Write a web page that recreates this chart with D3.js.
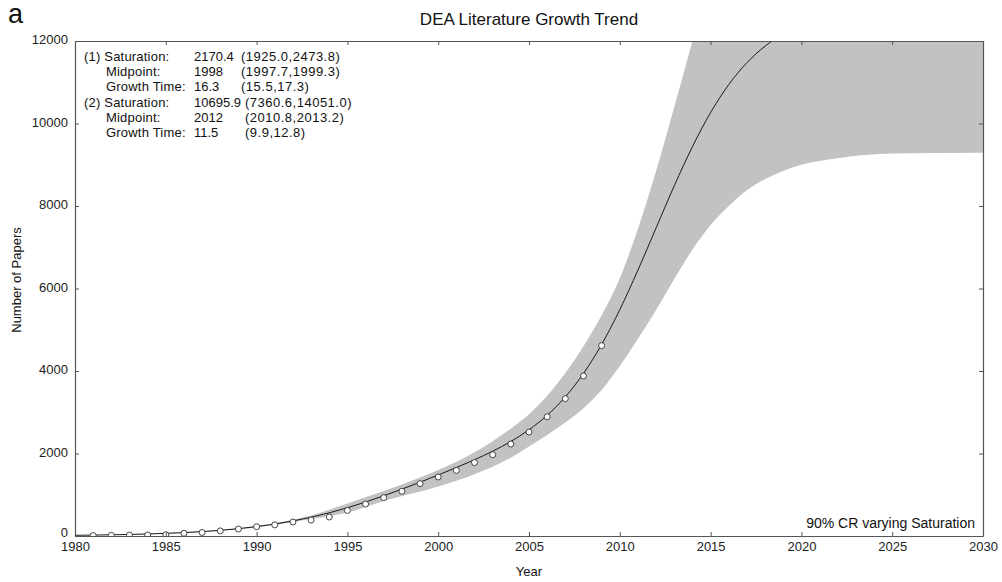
<!DOCTYPE html>
<html>
<head>
<meta charset="utf-8">
<script src="https://cdn.jsdelivr.net/npm/d3@7"></script>
<style>
  html, body { margin: 0; padding: 0; background: #fff; }
  svg { display: block; font-family: "Liberation Sans", Arial, sans-serif; }
</style>
</head>
<body>
<svg id="chart" width="1002" height="582"></svg>
<script>
// Observed yearly paper counts
const obsYears = [1981,1982,1983,1984,1985,1986,1987,1988,1989,1990,1991,1992,1993,1994,1995,
                  1996,1997,1998,1999,2000,2001,2002,2003,2004,2005,2006,2007,2008,2009];
const obsCounts = [10,15,22,25,30,65,85,125,170,225,270,340,385,460,620,
                   775,930,1085,1270,1430,1590,1780,1970,2230,2520,2890,3330,3880,4615];

// Bi-logistic fitted curve, sampled yearly
const fitYears = [1980,1981,1982,1983,1984,1985,1986,1987,1988,1989,1990,1991,1992,1993,1994,
                  1995,1996,1997,1998,1999,2000,2001,2002,2003,2004,2005,2006,2007,2008,2009,
                  2010,2011,2012,2013,2014,2015,2016,2017,2018,2019];
const fitCounts = [17,22,29,38,49,64,83,107,138,178,228,289,364,455,562,
                   685,823,975,1136,1304,1479,1659,1849,2056,2292,2575,2927,3373,3940,4643,
                   5487,6446,7470,8491,9439,10265,10943,11474,11875,12169];

// 90% credible region (varying saturation): upper and lower envelopes
const bandUpperYears = [1980,1985,1990,1993,1995,1997,2000,2002,2003,2004,2005,2006,2007,2008,2009,2010,2011,2012,2013,2014,2015,2030];
const bandUpper      = [17,70,245,500,790,1090,1600,2030,2300,2600,2950,3400,3950,4600,5350,6250,7450,8850,10400,12000,13600,13600];
const bandLowerYears = [1980,1985,1990,1993,1995,1997,2000,2002,2003,2004,2005,2006,2007,2008,2009,2010,2011,2012,2013,2014,2015,2016,2017,2018,2019,2020,2022,2025,2030];
const bandLower      = [16,58,210,410,570,850,1200,1500,1680,1900,2170,2450,2750,3100,3540,4120,4780,5480,6230,6940,7540,8000,8380,8650,8850,9000,9160,9270,9290];

const xTicks = [1980,1985,1990,1995,2000,2005,2010,2015,2020,2025,2030];
const yTicks = [0,2000,4000,6000,8000,10000,12000];

const paramRows = [
  ["(1) Saturation:", "2170.4", "(1925.0,2473.8)"],
  ["Midpoint:", "1998", "(1997.7,1999.3)"],
  ["Growth Time:", "16.3", "(15.5,17.3)"],
  ["(2) Saturation:", "10695.9", "(7360.6,14051.0)"],
  ["Midpoint:", "2012", "(2010.8,2013.2)"],
  ["Growth Time:", "11.5", "(9.9,12.8)"]
];

const svg = d3.select("#chart");
const margin = {left: 75, right: 19, top: 41, bottom: 46};
const W = 1002, H = 582;
const x = d3.scaleLinear().domain([1980, 2030]).range([margin.left, W - margin.right]);
const y = d3.scaleLinear().domain([0, 12000]).range([H - margin.bottom, margin.top]);

svg.append("defs").append("clipPath").attr("id", "plotClip")
  .append("rect")
  .attr("x", x(1980)).attr("y", y(12000))
  .attr("width", x(2030) - x(1980)).attr("height", y(0) - y(12000));

const plot = svg.append("g").attr("clip-path", "url(#plotClip)");

// Credible region polygon
const upperPts = bandUpperYears.map((yr, i) => [x(yr), y(bandUpper[i])]);
const lowerPts = bandLowerYears.map((yr, i) => [x(yr), y(bandLower[i])]);
const smooth = d3.line().curve(d3.curveMonotoneX);
const upperPath = smooth(upperPts);
const lowerRev = smooth(lowerPts.slice().reverse());
plot.append("path")
  .attr("d", upperPath + "L" + lowerRev.slice(1) + "Z")
  .attr("fill", "#c2c2c2")
  .attr("stroke", "none");

// Fitted curve
plot.append("path")
  .datum(fitYears.map((yr, i) => [yr, fitCounts[i]]))
  .attr("d", d3.line().x(d => x(d[0])).y(d => y(d[1])).curve(d3.curveMonotoneX))
  .attr("fill", "none")
  .attr("stroke", "#1a1a1a")
  .attr("stroke-width", 1);

// Observed points
plot.selectAll("circle.obs")
  .data(obsYears.map((yr, i) => [yr, obsCounts[i]]))
  .join("circle")
  .attr("class", "obs")
  .attr("cx", d => x(d[0]))
  .attr("cy", d => y(d[1]))
  .attr("r", 3)
  .attr("fill", "#fff")
  .attr("stroke", "#333")
  .attr("stroke-width", 0.9);

// Axes: box with inward ticks on all sides
const axisColor = "#555";
const axBottom = svg.append("g").attr("transform", `translate(0,${y(0)})`)
  .call(d3.axisBottom(x).tickValues(xTicks).tickFormat(d3.format("d")).tickSizeInner(-4).tickSizeOuter(0).tickPadding(6));
const axTop = svg.append("g").attr("transform", `translate(0,${y(12000)})`)
  .call(d3.axisTop(x).tickValues(xTicks).tickFormat("").tickSizeInner(-4).tickSizeOuter(0));
const axLeft = svg.append("g").attr("transform", `translate(${x(1980)},0)`)
  .call(d3.axisLeft(y).tickValues(yTicks).tickFormat(d3.format("d")).tickSizeInner(-4).tickSizeOuter(0).tickPadding(7));
const axRight = svg.append("g").attr("transform", `translate(${x(2030)},0)`)
  .call(d3.axisRight(y).tickValues(yTicks).tickFormat("").tickSizeInner(-4).tickSizeOuter(0));

[axBottom, axTop, axLeft, axRight].forEach(g => {
  g.select(".domain").attr("stroke", axisColor).attr("stroke-width", 1.2);
  g.selectAll(".tick line").attr("stroke", axisColor);
  g.selectAll(".tick text").attr("fill", "#222").attr("font-size", 13)
    .attr("font-family", "'Liberation Sans', Arial, sans-serif");
});
axLeft.selectAll(".tick text").attr("dy", d => d === 0 ? "0.05em" : "0.2em");

// Parameter table
const tbl = svg.append("g").attr("font-size", 13).attr("fill", "#111");
paramRows.forEach((row, i) => {
  const yy = 61 + i * 15.2;
  const indent = row[0].startsWith("(") ? 84 : 106;
  tbl.append("text").attr("x", indent).attr("y", yy).attr("letter-spacing", 0.2).text(row[0]);
  tbl.append("text").attr("x", 194).attr("y", yy).text(row[1]);
  tbl.append("text").attr("x", i >= 3 ? 245 : 241).attr("y", yy).attr("letter-spacing", 0.5).text(row[2]);
});

// Annotation
svg.append("text")
  .attr("x", 975).attr("y", 528)
  .attr("text-anchor", "end")
  .attr("font-size", 14)
  .attr("fill", "#111")
  .text("90% CR varying Saturation");

// Titles and labels
svg.append("text")
  .attr("x", (x(1980) + x(2030)) / 2).attr("y", 25)
  .attr("text-anchor", "middle")
  .attr("font-size", 17)
  .attr("fill", "#111")
  .text("DEA Literature Growth Trend");

svg.append("text")
  .attr("x", 8).attr("y", 23)
  .attr("font-size", 27)
  .attr("fill", "#111")
  .text("a");

svg.append("text")
  .attr("x", (x(1980) + x(2030)) / 2).attr("y", 576)
  .attr("text-anchor", "middle")
  .attr("font-size", 13)
  .attr("fill", "#111")
  .text("Year");

svg.append("text")
  .attr("transform", `translate(21,280) rotate(-90)`)
  .attr("text-anchor", "middle")
  .attr("font-size", 13)
  .attr("fill", "#111")
  .text("Number of Papers");
</script>
</body>
</html>
